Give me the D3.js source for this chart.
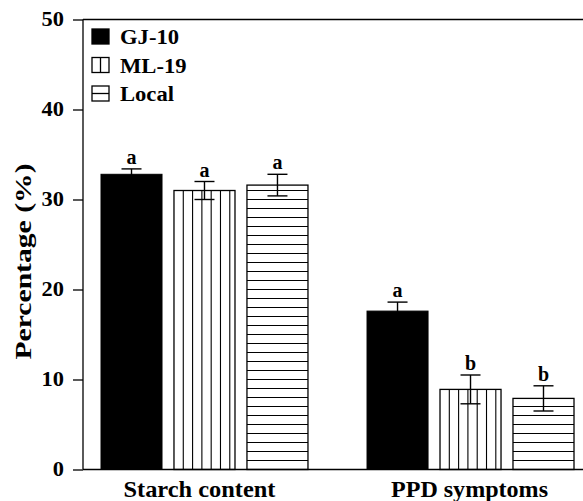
<!DOCTYPE html>
<html>
<head>
<meta charset="utf-8">
<script src="https://cdn.jsdelivr.net/npm/d3@7"></script>
<style>
  body { margin: 0; background: #fff; }
  text { font-family: "Liberation Serif", "Times New Roman", serif; font-weight: bold; fill: #000; }
</style>
</head>
<body>
<svg id="chart" width="583" height="501"></svg>
<script>
// data
const categories = ['Starch content', 'PPD symptoms'];
const series = ['GJ-10', 'ML-19', 'Local'];
const means = {
  'GJ-10': [32.8, 17.6],
  'ML-19': [31.0, 8.9],
  'Local': [31.6, 7.9]
};
const errors = {
  'GJ-10': [0.6, 1.0],
  'ML-19': [1.0, 1.6],
  'Local': [1.2, 1.4]
};
const letters = {
  'GJ-10': ['a', 'a'],
  'ML-19': ['a', 'b'],
  'Local': ['a', 'b']
};
const yTicks = [0, 10, 20, 30, 40, 50];

let svg = d3.select('#chart');
let plotLeft = 83, plotRight = 583, plotTop = 19.5, plotBottom = 469.5;

// the source figure is a bit wider than tall, so widen glyphs a little
function widen(sel, k) {
  sel.each(function() {
    let len = this.getComputedTextLength();
    d3.select(this).attr('textLength', len * k).attr('lengthAdjust', 'spacingAndGlyphs');
  });
}

let y = d3.scaleLinear().domain([0, 50]).range([plotBottom, plotTop]);
let x0 = d3.scaleBand().domain(categories).range([101, 574]).paddingInner(0.222).paddingOuter(0);
let x1 = d3.scaleBand().domain(series).range([0, x0.bandwidth()]).paddingInner(0.164).paddingOuter(0);

let rows = [];
categories.forEach((c, i) => {
  series.forEach(s => {
    rows.push({cat: c, s: s, v: means[s][i], e: errors[s][i], l: letters[s][i]});
  });
});

let bars = svg.append('g');
rows.forEach(d => {
  let bx = x0(d.cat) + x1(d.s), bw = x1.bandwidth();
  let by = y(d.v), bh = plotBottom - by;
  let g = bars.append('g');
  if (d.s === 'GJ-10') {
    g.append('rect').attr('x', bx).attr('y', by).attr('width', bw).attr('height', bh)
      .style('fill', '#000').style('stroke', '#000').style('stroke-width', '1px');
  } else {
    g.append('rect').attr('x', bx).attr('y', by).attr('width', bw).attr('height', bh)
      .style('fill', '#fff');
    if (d.s === 'ML-19') {
      // vertical hatching
      d3.range(bx + 9.3, bx + bw - 2, 9.3).forEach(lx => {
        g.append('line').attr('x1', lx).attr('x2', lx).attr('y1', by).attr('y2', plotBottom)
          .style('stroke', '#000').style('stroke-width', '1.1px');
      });
    } else {
      // horizontal hatching, one line per unit from the base
      d3.range(1, d.v, 1).forEach(v => {
        g.append('line').attr('x1', bx).attr('x2', bx + bw).attr('y1', y(v)).attr('y2', y(v))
          .style('stroke', '#000').style('stroke-width', '1.1px');
      });
    }
    g.append('rect').attr('x', bx).attr('y', by).attr('width', bw).attr('height', bh)
      .style('fill', 'none').style('stroke', '#000').style('stroke-width', '1.3px');
  }
  // error bar
  let cx = bx + bw / 2, cap = 10;
  let eg = g.append('g').style('stroke', '#000').style('stroke-width', '1.4px');
  eg.append('line').attr('x1', cx).attr('x2', cx).attr('y1', y(d.v + d.e)).attr('y2', y(d.v - d.e));
  eg.append('line').attr('x1', cx - cap).attr('x2', cx + cap).attr('y1', y(d.v + d.e)).attr('y2', y(d.v + d.e));
  if (d.s !== 'GJ-10') {
    eg.append('line').attr('x1', cx - cap).attr('x2', cx + cap).attr('y1', y(d.v - d.e)).attr('y2', y(d.v - d.e));
  }
  g.append('text').attr('x', cx).attr('y', y(d.v + d.e) - 5)
    .attr('text-anchor', 'middle').style('font-size', '20px').text(d.l);
});

// axes
let ax = svg.append('g').style('stroke', '#000').style('stroke-width', '1.3px');
ax.append('line').attr('x1', plotLeft).attr('x2', plotLeft).attr('y1', plotTop).attr('y2', plotBottom);
ax.append('line').attr('x1', plotLeft).attr('x2', plotRight).attr('y1', plotTop).attr('y2', plotTop);
ax.append('line').attr('x1', plotLeft).attr('x2', plotRight).attr('y1', plotBottom).attr('y2', plotBottom);

let yAxis = d3.axisLeft(y).tickValues(yTicks).tickSize(10).tickPadding(9).tickFormat(d3.format('d'));
let yg = svg.append('g').attr('transform', `translate(${plotLeft},0)`).call(yAxis);
yg.select('.domain').remove();
yg.attr('font-family', null).attr('font-size', null);
yg.selectAll('.tick line').style('stroke', '#000').style('stroke-width', '1.3px');
yg.selectAll('.tick text').style('font-size', '20px').call(widen, 1.12);

svg.append('text')
  .attr('transform', `translate(31,${(163 + 360) / 2}) rotate(-90)`)
  .attr('text-anchor', 'middle').style('font-size', '24px')
  .attr('textLength', 196).attr('lengthAdjust', 'spacingAndGlyphs')
  .text('Percentage (%)');

categories.forEach((c, i) => {
  svg.append('text')
    .attr('x', x0(c) + x0.bandwidth() / 2 - (i === 0 ? 5 : 1)).attr('y', 497)
    .attr('text-anchor', 'middle').style('font-size', '23px')
    .attr('textLength', i === 0 ? 152 : 157).attr('lengthAdjust', 'spacingAndGlyphs')
    .text(c);
});

// legend
let lg = svg.append('g');
series.forEach((s, i) => {
  let ly = 29 + i * 28.5;
  let sq = lg.append('g');
  sq.append('rect').attr('x', 92).attr('y', ly).attr('width', 17).attr('height', 15)
    .style('fill', s === 'GJ-10' ? '#000' : '#fff').style('stroke', '#000').style('stroke-width', '1.3px');
  if (s === 'ML-19') {
    sq.append('line').attr('x1', 100.5).attr('x2', 100.5).attr('y1', ly).attr('y2', ly + 15)
      .style('stroke', '#000').style('stroke-width', '1.3px');
  }
  if (s === 'Local') {
    sq.append('line').attr('x1', 92).attr('x2', 109).attr('y1', ly + 7.5).attr('y2', ly + 7.5)
      .style('stroke', '#000').style('stroke-width', '1.3px');
  }
  lg.append('text').attr('x', 120).attr('y', ly + 15).style('font-size', '20px').text(s).call(widen, 1.13);
});
</script>
</body>
</html>
